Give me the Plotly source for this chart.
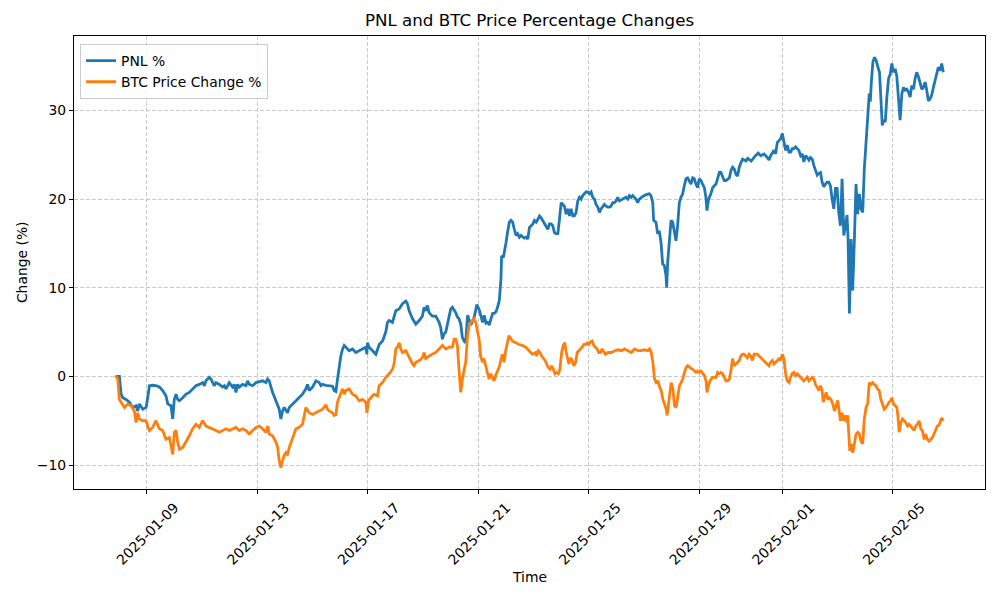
import pandas as pd
import plotly.graph_objects as go

# hours counted from this moment
START = pd.Timestamp("2025-01-07 00:00")

pnl_hours = [
    21, 24.4, 25.9, 27.3, 30.2, 33.1, 36.0, 38.9, 40.3, 41.8, 44.7, 47.6, 49.0, 50.5, 53.3,
    56.2, 59.1, 62.0, 64.9, 66.4, 69.2, 70.7, 72.1, 73.6, 75.0, 76.5, 79.4, 82.3, 85.1, 88.0,
    90.9, 93.8, 96.7, 98.2, 99.6, 102.5, 104.0, 105.4, 106.8, 108.3, 111.2, 114.1, 115.5, 117.0,
    119.8, 122.7, 124.2, 125.6, 127.1, 128.5, 131.4, 134.3, 135.7, 137.2, 140.1, 143.0, 145.9,
    148.8, 151.6, 153.1, 154.5, 156.0, 157.4, 160.3, 161.8, 163.2, 164.6, 166.1, 167.5, 169.0,
    170.4, 171.9, 174.8, 177.7, 180.5, 183.4, 186.3, 187.8, 189.2, 192.1,
    195.0, 197.9, 199.4, 200.8, 203.7, 206.6, 209.5, 210.9, 212.4, 213.8, 215.3, 216.7, 218.2,
    219.6, 221.0, 223.9, 226.8, 229.7, 232.6, 235.5, 238.4, 239.3, 239.8, 241.3, 244.2, 247.1,
    250.0, 252.9, 255.7, 257.2, 258.6, 261.5, 264.4, 267.3, 270.2, 271.6, 273.1, 274.5, 276.0,
    278.9, 281.8, 284.7, 287.5, 289.0, 290.4, 291.9, 293.3, 296.2, 299.1, 302.0, 303.4, 304.9,
    306.3, 307.8, 310.7, 312.1, 313.6, 316.4, 317.9, 319.3, 320.8, 322.2, 323.7, 325.1,
    326.7, 329.6, 332.5, 334.8, 336.9, 338.3, 339.8, 341.2, 342.7, 344.1, 345.6, 347.0, 348.5,
    349.9, 351.4, 352.8, 354.3, 355.7, 356.3, 357.8, 358.6, 360.1, 361.5, 363.0, 364.4, 365.9,
    367.3, 368.8, 370.2, 371.7, 373.1, 376.0,
    377.6, 379.0, 380.5, 381.9, 383.4, 384.8, 386.3, 387.7, 389.2, 390.6, 392.1, 393.5, 394.9,
    396.4, 397.8, 399.3, 400.7, 402.2, 403.6, 405.1, 406.5, 408.0, 409.4, 410.8, 412.3, 413.7,
    415.2, 416.6, 418.1, 419.5, 421.0, 422.4, 423.9, 425.3, 426.7, 428.2, 429.6, 431.1, 432.5,
    434.0, 435.4, 436.9, 438.3, 439.8, 441.2, 442.6, 444.1, 445.5, 447.0, 448.4, 449.9, 451.3,
    452.8, 454.2, 455.7, 457.1, 458.6, 461.4, 464.3, 465.8, 467.2, 468.7, 470.1, 471.6, 473.0,
    474.4, 475.9, 478.8, 481.7, 484.6, 486.0, 487.5, 488.3, 490.3, 491.8, 493.2, 494.7, 496.1,
    497.6, 499.0, 499.6, 500.5, 501.9, 503.4, 504.8, 506.3, 507.7, 509.1, 510.6, 512.0, 513.5,
    514.9, 516.4, 517.8, 519.3, 520.7, 522.2, 523.6, 525.0, 526.5, 527.9, 529.4, 530.8, 532.3,
    533.7, 534.6, 536.0, 538.0, 539.5, 540.9, 542.4, 543.8, 545.3, 546.7, 548.2, 549.6, 551.1,
    552.5, 554.0, 555.4, 556.8, 558.3, 559.7, 561.2, 562.6, 564.1, 565.5, 567.0, 568.4,
    570.0, 573.0, 576.0, 579.0,
    581.3, 584.1, 587.0, 588.5, 589.9, 592.8, 594.2, 595.7, 597.1, 598.6, 600.0, 601.4, 602.9,
    604.3, 605.8, 607.2, 608.6, 610.1, 611.5, 613.0, 614.4, 615.9, 617.3, 618.7, 620.2, 621.6,
    623.1, 624.5, 626.0, 627.4, 628.8, 630.3, 631.7, 633.2, 634.6, 636.1, 637.5, 638.9, 640.4,
    641.8, 643.3, 644.7, 646.2, 647.6, 649.0, 650.5, 651.9, 653.4, 654.8, 656.2, 657.1, 658.3,
    659.7, 661.1, 662.6, 664.0, 665.4, 666.9, 668.3, 669.8, 671.2, 672.7, 674.1, 675.5, 676.4,
    677.3, 678.7, 680.1, 681.6, 683.0, 684.4, 685.9, 686.8, 687.9, 689.4, 690.8, 692.3, 693.7,
    695.1, 696.6, 698.0, 699.4, 700.9, 702.3, 703.8, 705.2, 706.7, 708.1, 709.5, 711.0, 712.4,
    713.9, 715.3, 716.7, 718.2, 719.6, 721.1, 722.5, 724.0, 725.4, 726.8, 728.3, 729.7, 731.2,
    732.6, 734.0, 735.5, 736.9, 738.4, 739.8,
]
pnl_pct = [
    0.0, 0.0, -2.0, -2.4, -2.6, -2.9, -3.5, -3.3, -3.9, -3.1, -3.7, -3.5, -2.4, -1.05, -1.0,
    -1.05, -1.2, -1.6, -2.2, -3.1, -3.3, -4.8, -2.6, -2.0, -2.6, -2.75, -2.4, -2.0, -1.8, -1.4,
    -1.05, -0.9, -0.7, -1.05, -0.5, -0.1, -0.3, -0.7, -1.05, -0.7, -0.9, -1.2, -1.05, -1.4,
    -0.7, -1.2, -0.9, -1.8, -0.9, -1.2, -0.9, -1.05, -0.5, -0.9, -1.05, -0.7, -0.6,
    -0.5, -0.7, -0.3, -0.5, -1.2, -1.8, -2.75, -3.3, -3.7, -4.8, -3.9, -3.5, -3.9,
    -4.1, -3.5, -3.1, -2.75, -2.4, -2.0, -1.4, -0.9, -1.6, -1.2,
    -0.5, -0.7, -1.05, -0.9, -1.0, -1.05, -1.1, -1.6, -1.7, -0.3, 1.2, 2.3, 3.1,
    3.5, 3.3, 2.9, 3.1, 2.7, 2.9, 3.1, 3.3, 2.5, 3.8, 3.3, 2.9, 2.5,
    3.6, 4.0, 5.0, 6.1, 6.3, 6.1, 7.4, 7.6, 8.2, 8.3, 8.5, 8.2, 7.4,
    6.5, 5.9, 6.3, 6.8, 7.8, 7.4, 8.0, 7.2, 6.8, 6.8, 6.1, 5.5, 4.2,
    4.8, 5.0, 6.7, 7.6, 7.8, 7.2, 6.7, 6.5, 5.9, 4.4, 4.0, 3.8,
    6.9, 5.8, 6.7, 8.1, 7.5, 6.9, 6.1, 6.9, 6.0, 6.1, 5.8, 6.5, 7.1,
    7.1, 7.3, 7.8, 8.6, 11.0, 13.6, 13.4, 14.2, 15.1, 16.3, 17.4, 17.6, 17.4,
    16.6, 15.9, 16.1, 15.7, 15.9, 15.6,
    15.7, 15.5, 16.8, 17.0, 17.2, 17.6, 17.4, 17.7, 18.1, 17.9, 17.6, 17.2, 17.0,
    16.6, 17.2, 17.2, 17.0, 16.2, 16.1, 16.1, 17.7, 19.6, 19.4, 19.2, 18.3, 18.9,
    18.1, 18.9, 18.1, 18.1, 18.5, 19.8, 20.2, 20.0, 20.4, 20.6, 20.8, 20.8, 20.6,
    20.8, 20.2, 20.0, 19.4, 19.1, 18.5, 18.9, 19.2, 19.4, 19.2, 19.1, 19.1, 19.2,
    19.6, 19.6, 19.8, 20.2, 19.8, 20.0, 20.2, 20.0, 20.4, 20.2, 20.4, 20.2, 20.0,
    19.6, 20.0, 20.3, 20.5, 20.6, 20.4, 19.6, 17.6, 17.4, 16.1, 16.4, 15.1, 12.7,
    12.5, 11.4, 10.0, 12.9, 15.1, 17.6, 17.4, 16.2, 15.3, 17.0, 19.6, 20.2, 20.6,
    21.5, 22.3, 22.4, 22.1, 21.7, 22.4, 22.3, 21.7, 21.3, 22.3, 22.1, 21.7, 21.3,
    20.2, 18.7, 20.0, 20.6, 21.3, 21.5, 21.7, 22.3, 23.0, 23.0, 22.4, 22.1, 22.1,
    22.3, 22.4, 23.2, 23.6, 23.4, 22.8, 22.6, 23.6, 24.1, 24.5, 24.4, 24.3,
    24.6, 24.3, 24.8, 25.2,
    24.9, 25.1, 24.7, 24.4, 24.9, 25.5, 25.1, 26.4, 26.6, 26.8, 27.4, 26.6, 25.5,
    26.1, 25.3, 25.3, 25.7, 25.7, 25.9, 25.7, 25.5, 24.9, 25.1, 24.2, 24.9, 24.7,
    24.4, 24.7, 24.5, 23.8, 23.2, 22.7, 22.9, 23.0, 21.9, 21.4, 21.7, 21.9, 21.9,
    21.5, 20.0, 18.9, 21.2, 21.2, 18.5, 17.0, 22.3, 15.9, 17.0, 18.2, 15.5, 7.1,
    15.5, 9.7, 15.5, 21.7, 18.3, 20.6, 18.9, 18.5, 23.4, 27.2, 29.1, 31.9, 31.0,
    33.2, 35.5, 36.0, 35.6, 34.9, 34.3, 30.6, 28.3, 28.9, 28.7, 31.5, 33.6, 34.1,
    35.3, 34.3, 34.7, 33.9, 31.5, 28.9, 31.9, 32.6, 32.3, 32.4, 32.1, 31.5, 32.8,
    32.4, 33.6, 34.3, 33.8, 33.2, 32.4, 32.6, 33.2, 32.3, 31.1, 31.3, 31.7, 32.6,
    33.4, 34.3, 34.9, 34.5, 35.3, 34.3,
]

btc_hours = [
    21, 23.0, 24.4, 25.9, 28.8, 31.7, 34.6, 37.4, 38.9, 40.3, 41.8, 44.7, 47.6, 49.0, 50.5,
    53.3, 56.2, 59.1, 62.0, 64.9, 67.8, 69.2, 70.7, 72.1, 73.6, 75.0, 76.5, 79.4, 82.3, 85.1,
    88.0, 90.9, 93.8, 96.7, 99.6, 102.5, 105.4, 108.3, 111.2, 114.1, 117.0, 119.8, 122.7,
    125.6, 128.5, 131.4, 134.3, 137.2, 140.1, 143.0, 145.9, 148.8, 151.6, 153.1, 154.5, 157.4,
    160.3, 161.8, 163.2, 164.6, 166.1, 167.5, 169.0, 170.4, 171.9, 174.8, 177.7, 180.5, 183.4,
    186.3, 187.8, 189.2, 192.1,
    195.0, 197.9, 200.8, 203.7, 205.1, 206.6, 209.5, 210.9, 212.4, 213.8, 215.3, 216.7, 218.2,
    219.6, 221.0, 223.9, 226.8, 229.7, 232.6, 235.5, 238.4, 239.3, 240.7, 242.7, 245.6, 248.5,
    250.0, 252.9, 255.7, 258.6, 261.5, 262.9, 264.4, 265.8, 267.3, 268.7, 270.2, 273.1, 276.0,
    278.9, 280.3, 281.8, 284.7, 287.5, 289.0, 290.4, 293.3, 296.2, 299.1, 302.0, 304.9, 307.8,
    310.7, 313.6, 315.0, 316.4, 317.9, 319.3, 320.8, 322.2, 323.7, 325.1, 326.6, 328.0, 329.5,
    330.9, 332.4, 333.8, 335.2, 336.7, 338.1, 339.6, 341.0, 342.5, 343.9, 345.4, 346.8, 348.3,
    349.7, 351.1, 352.6, 354.0, 356.9, 358.4, 359.8, 361.3, 362.7, 365.6, 368.5, 371.4, 374.3,
    377.2, 380.1, 383.0, 385.8,
    386.7, 388.2, 389.6, 391.1, 392.5, 394.0, 395.4, 396.8, 398.3, 399.7, 401.2, 402.6, 404.0,
    405.5, 406.9, 408.4, 409.8, 411.2, 412.1, 413.3, 414.7, 416.2, 417.6, 419.0, 420.5, 421.9,
    423.4, 424.8, 426.2, 427.7, 429.1, 430.6, 432.0, 433.4, 434.9, 436.3, 437.8, 439.2, 440.6,
    442.1, 443.5, 445.0, 446.4, 448.7, 451.6, 454.5, 457.4, 460.3, 463.1, 466.0, 468.9, 471.8,
    474.7, 477.5, 480.4, 483.3, 484.8, 486.2, 487.6, 489.1, 490.5, 492.0, 493.4, 494.9, 496.3,
    497.7, 499.2, 500.0, 501.2, 502.3, 503.5, 505.0, 506.4, 507.8, 509.3, 510.7, 512.1, 513.6,
    515.0, 516.5, 517.9, 519.3, 520.8, 522.2, 523.7, 525.1, 526.5, 528.0, 529.4, 530.9, 532.3,
    533.8, 534.6, 535.8, 537.2, 539.5, 542.4, 543.9, 545.3, 546.7, 548.2, 549.6, 551.1, 552.5,
    554.0, 555.4, 556.8, 558.3, 559.7, 561.2, 562.6,
    564.0, 565.4, 566.8, 568.3, 569.7, 571.2, 572.6, 574.1, 575.5, 576.9, 578.4, 579.8, 581.3,
    582.7, 584.1, 585.6, 587.0, 588.5, 589.9, 591.4, 592.8, 594.2, 595.7, 597.1, 598.6, 600.0,
    601.4, 602.9, 604.3, 605.8, 607.2, 608.6, 610.1, 611.5, 613.0, 614.4, 615.9, 617.3, 618.7,
    620.2, 621.6, 623.1, 624.5, 626.0, 627.4, 628.8, 630.3, 631.7, 633.2, 634.6, 635.5, 636.6,
    638.1, 639.5, 640.9, 642.4, 643.8, 645.3, 646.7, 648.1, 649.6, 650.5, 651.9, 653.4, 654.8,
    656.2, 656.8, 657.7, 658.6, 659.7, 661.2, 662.6, 664.0, 665.5, 666.9, 668.3, 669.8, 671.2,
    672.7, 674.1, 675.5, 677.0, 678.4, 679.8, 681.3, 682.7, 684.1, 685.6, 687.0, 688.5, 689.9,
    691.4, 692.8, 694.2, 695.1, 696.6, 698.0, 699.5, 700.3, 701.5, 702.9, 704.4, 705.8, 707.2,
    708.7, 710.1, 711.6, 713.0, 714.4, 715.9, 717.3, 718.8, 720.2, 721.6, 723.1, 724.5, 726.0,
    727.4, 728.8, 730.3, 731.7, 733.2, 734.6, 736.0, 737.5, 738.4, 739.8,
]
btc_pct = [
    0.1, -0.3, -2.6, -2.9, -3.5, -3.1, -3.3, -3.9, -5.2, -4.1, -4.8, -5.0, -5.0, -5.6, -6.1,
    -5.75, -5.0, -5.9, -6.1, -7.1, -6.9, -7.8, -8.8, -6.3, -6.1, -7.4, -8.2, -8.0, -7.4, -6.7,
    -5.9, -5.4, -5.75, -5.0, -5.6, -5.75, -5.9, -6.1, -6.3, -6.1, -5.9, -6.1, -5.9,
    -5.75, -6.1, -5.9, -6.1, -6.5, -6.1, -5.75, -5.6, -5.9, -6.3, -5.6, -6.5, -6.7,
    -7.4, -8.0, -9.5, -10.3, -9.5, -8.9, -8.6, -8.9, -8.0, -6.9, -5.9, -5.75, -5.4,
    -3.5, -3.9, -4.1, -4.3,
    -4.1, -3.9, -3.7, -3.2, -3.7, -3.9, -4.1, -4.4, -4.3, -2.9, -2.4, -1.8, -1.4,
    -2.0, -1.6, -1.4, -2.0, -2.2, -2.75, -2.6, -2.9, -4.1, -2.75, -2.4, -2.0, -2.2,
    -1.05, -0.7, -0.1, 0.3, 0.8, 1.4, 3.1, 3.3, 3.8, 3.1, 2.7, 2.9, 2.1,
    1.4, 1.2, 1.6, 1.8, 2.1, 2.7, 2.0, 2.3, 2.5, 2.7, 3.1, 3.5, 3.1,
    3.3, 3.3, 4.2, 4.2, 3.5, 0.8, -1.8, -0.3, 0.5, 1.6, 4.4, 5.7, 6.1,
    6.3, 6.5, 6.1, 5.3, 4.2, 2.3, 1.6, 2.0, 1.0, 0.45, -0.3, 0.3, -0.1,
    -0.5, 0.1, 0.6, 1.0, 2.5, 1.6, 2.9, 4.0, 4.6, 4.0, 3.8, 3.6, 3.5,
    3.3, 2.9, 2.5, 2.7,
    2.3, 2.9, 2.7, 2.3, 2.1, 1.8, 1.4, 1.0, 0.8, 1.2, 0.8, 0.3, 0.45,
    0.3, 0.8, 2.7, 3.5, 3.8, 2.9, 2.0, 1.4, 2.1, 1.8, 1.2, 1.6, 2.7,
    2.9, 3.1, 3.3, 3.6, 3.6, 3.8, 3.6, 3.9, 4.0, 3.5, 3.3, 3.1, 2.7,
    2.7, 3.1, 2.7, 2.5, 2.7, 2.7, 2.9, 3.0, 2.9, 3.1, 2.9, 2.7, 3.1,
    2.9, 2.9, 3.0, 2.9, 3.1, 2.7, 1.6, -0.3, -0.7, -0.5, -1.2, -1.6, -2.6,
    -3.1, -3.7, -4.4, -3.3, -2.2, -0.7, -1.4, -3.3, -3.5, -2.0, -1.05, -0.7, -0.3,
    0.45, 1.0, 1.2, 1.0, 0.9, 0.8, 0.6, 0.45, 0.6, 0.45, 0.6, 0.3, 0.1,
    -0.5, -1.8, -1.05, -0.5, -0.1, -0.1, 0.45, 0.3, 0.45, 0.3, -0.1, -0.5, -0.5,
    -0.3, 0.6, 2.0, 1.2, 1.4, 1.6, 1.8,
    2.3, 2.5, 2.5, 2.3, 2.1, 2.5, 2.3, 1.8, 2.5, 2.5, 2.5, 2.3, 2.1,
    2.0, 1.8, 1.6, 1.4, 1.2, 1.6, 1.8, 1.4, 1.6, 1.8, 2.0, 1.8, 2.5,
    2.0, 0.3, -0.5, -0.7, -0.1, 0.3, 0.45, 0.1, 0.3, 0.1, -0.1, -0.3, -0.5,
    -0.3, -0.1, -0.5, -0.3, -0.1, -0.3, -0.9, -1.2, -1.6, -1.05, -1.6, -2.9, -2.4,
    -1.8, -2.6, -2.4, -2.6, -3.1, -3.9, -3.3, -2.7, -4.1, -5.0, -4.1, -5.0, -4.4,
    -5.2, -4.4, -7.1, -8.4, -7.6, -8.6, -7.6, -6.5, -6.3, -6.5, -7.3, -7.6, -4.8,
    -3.5, -3.1, -0.7, -0.9, -0.7, -0.9, -1.05, -1.4, -1.6, -2.6, -3.1, -3.7, -3.5,
    -3.1, -2.9, -2.7, -2.4, -3.1, -3.3, -3.5, -4.4, -6.3, -5.2, -4.8, -5.0, -5.2,
    -5.6, -5.4, -5.6, -5.9, -6.1, -5.6, -5.4, -5.0, -5.9, -6.1, -7.1, -6.5, -7.1,
    -7.3, -7.1, -6.9, -6.5, -6.1, -5.6, -5.5, -5.0, -4.7, -5.0,
]

tick_dates = ["2025-01-09", "2025-01-13", "2025-01-17", "2025-01-21",
              "2025-01-25", "2025-01-29", "2025-02-01", "2025-02-05"]
y_ticks = [-10, 0, 10, 20, 30]

pnl_time = START + pd.to_timedelta(pnl_hours, unit="h")
btc_time = START + pd.to_timedelta(btc_hours, unit="h")

FONT = "DejaVu Sans"

fig = go.Figure()
fig.add_trace(go.Scatter(x=pnl_time, y=pnl_pct, mode="lines", name="PNL %",
                         line=dict(color="#1f77b4", width=2.8)))
fig.add_trace(go.Scatter(x=btc_time, y=btc_pct, mode="lines", name="BTC Price Change %",
                         line=dict(color="#ff7f0e", width=2.8)))

axis_style = dict(
    automargin=False,
    showline=True, mirror=True, linecolor="black", linewidth=1.1,
    ticks="outside", ticklen=4, tickcolor="black", tickwidth=1.1,
    showgrid=True, gridcolor="#c9c9c9", gridwidth=1.1, griddash="4px,2px",
    zeroline=False, tickfont=dict(family=FONT, size=13.9, color="black"),
)

fig.update_xaxes(
    range=[START - pd.Timedelta(hours=15), START + pd.Timedelta(hours=776)],
    tickvals=pd.to_datetime(tick_dates), ticktext=tick_dates,
    tickangle=-45, ticklabelshift=28, ticklabelstandoff=0,
    **axis_style,
)
fig.update_yaxes(range=[-12.7, 38.4], tickvals=y_ticks, **axis_style)

# the page puts the figure 8px in from the top left corner, so margins allow for that
fig.update_layout(
    width=1000, height=600,
    margin=dict(l=66, r=23, t=28, b=119, autoexpand=False),
    paper_bgcolor="white", plot_bgcolor="white",
    font=dict(family=FONT, color="black"),
    title=dict(text="PNL and BTC Price Percentage Changes", x=0.5215, xanchor="center",
               y=0.98, yanchor="middle", font=dict(family=FONT, size=16.7, color="black")),
    legend=dict(x=0.0066, y=0.982, xanchor="left", yanchor="top",
                bgcolor="rgba(255,255,255,0.8)", bordercolor="#cccccc", borderwidth=1,
                font=dict(family=FONT, size=13.9, color="black")),
    annotations=[
        dict(text="Time", xref="paper", yref="paper", x=0.5, y=-0.194,
             xanchor="center", yanchor="middle", showarrow=False,
             font=dict(family=FONT, size=13.9, color="black")),
        dict(text="Change (%)", xref="paper", yref="paper", x=-0.057, y=0.501,
             xanchor="center", yanchor="middle", textangle=-90, showarrow=False,
             font=dict(family=FONT, size=13.9, color="black")),
    ],
)

fig.write_html("out.html")
